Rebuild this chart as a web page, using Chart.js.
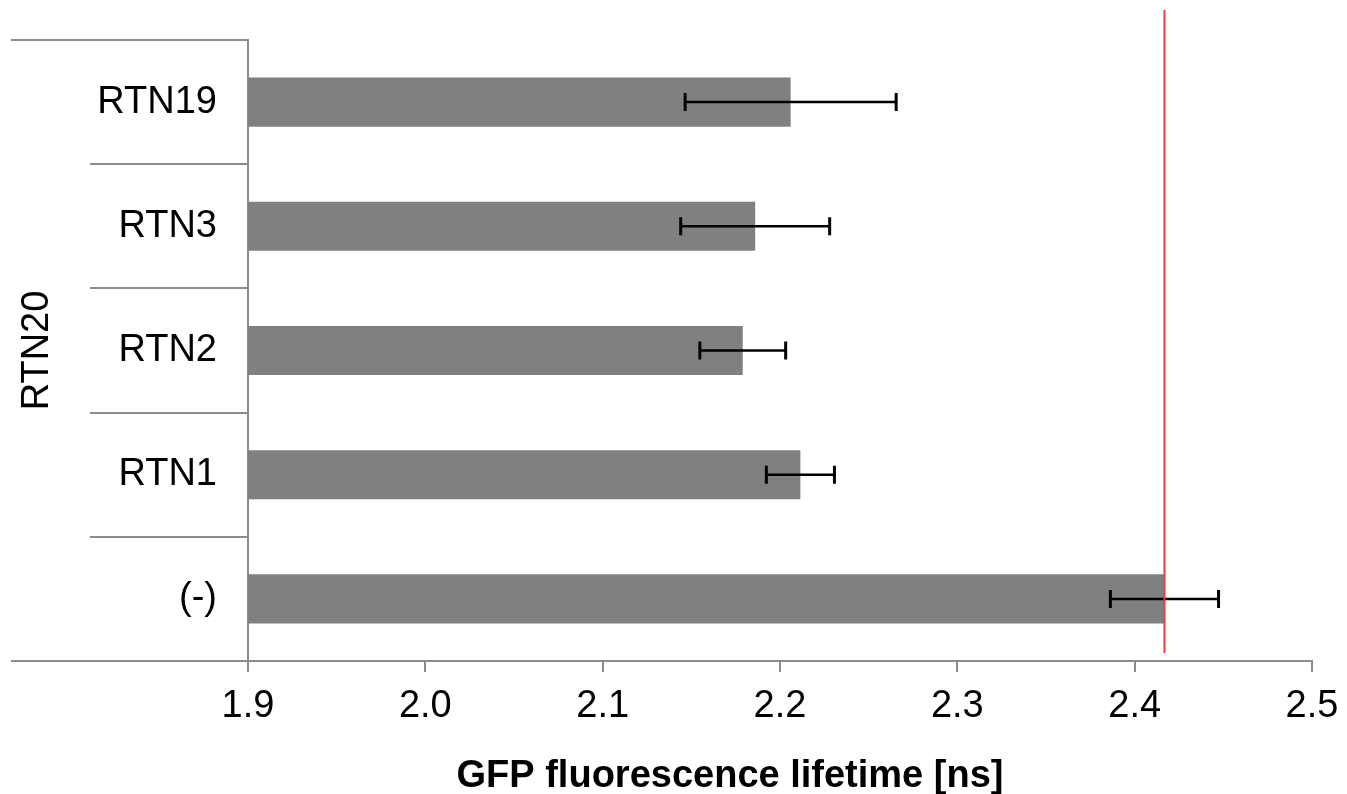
<!DOCTYPE html>
<html>
<head>
<meta charset="utf-8">
<style>
  html, body { margin: 0; padding: 0; background: #fff; }
  #wrap { width: 1347px; height: 794px; position: relative; }
</style>
<script src="https://cdn.jsdelivr.net/npm/chart.js@4/dist/chart.umd.min.js"></script>
</head>
<body>
<div id="wrap"><canvas id="c" width="1347" height="794"></canvas></div>
<script>
// ---- data ----
const categories = ['RTN19', 'RTN3', 'RTN2', 'RTN1', '(-)'];
const lifetimes  = [2.206, 2.186, 2.179, 2.2115, 2.4168];
const errors     = [0.0595, 0.042, 0.0242, 0.0192, 0.0305];
const referenceValue = [2.4168];
const xTickValues = [1.9, 2.0, 2.1, 2.2, 2.3, 2.4, 2.5];
const groupLabel = 'RTN20';
const xTitle = 'GFP fluorescence lifetime [ns]';

const FONT = "'Liberation Sans', Arial, sans-serif";
const GRID = '#8c8c8c';

const errorBarPlugin = {
  id: 'errorBars',
  afterDatasetsDraw(chart) {
    const xs = chart.scales.x, ys = chart.scales.y, ctx = chart.ctx;
    ctx.save();
    ctx.strokeStyle = '#000';
    errors.forEach((e, i) => {
      const v = lifetimes[i];
      const y = ys.getPixelForValue(i);
      const x0 = xs.getPixelForValue(v - e), x1 = xs.getPixelForValue(v + e);
      ctx.lineWidth = 2.5;
      ctx.beginPath(); ctx.moveTo(x0, y); ctx.lineTo(x1, y); ctx.stroke();
      ctx.lineWidth = 3;
      ctx.beginPath();
      ctx.moveTo(x0, y - 9); ctx.lineTo(x0, y + 9);
      ctx.moveTo(x1, y - 9); ctx.lineTo(x1, y + 9);
      ctx.stroke();
    });
    // reference line
    const ca = chart.chartArea;
    referenceValue.forEach(rv => {
      const x = xs.getPixelForValue(rv);
      ctx.strokeStyle = '#f0393c';
      ctx.lineWidth = 2;
      ctx.beginPath(); ctx.moveTo(x, ca.top - 30); ctx.lineTo(x, ca.bottom - 8); ctx.stroke();
    });
    ctx.restore();
  }
};

const framePlugin = {
  id: 'frame',
  afterDraw(chart) {
    const ctx = chart.ctx, ca = chart.chartArea;
    ctx.save();
    ctx.strokeStyle = GRID;
    ctx.lineWidth = 2;
    ctx.beginPath();
    ctx.moveTo(11, ca.top); ctx.lineTo(ca.left, ca.top);
    ctx.moveTo(11, ca.bottom); ctx.lineTo(ca.left, ca.bottom);
    ctx.stroke();
    // x axis title
    ctx.fillStyle = '#000';
    ctx.font = "bold 38px " + FONT;
    ctx.textAlign = 'center';
    ctx.textBaseline = 'alphabetic';
    ctx.fillText(xTitle, (ca.left + ca.right) / 2 - 50, 787);
    ctx.restore();
  }
};

new Chart(document.getElementById('c'), {
  type: 'bar',
  data: {
    labels: categories,
    datasets: [{
      data: lifetimes,
      backgroundColor: '#808080',
      borderWidth: 0,
      barPercentage: 0.395,
      categoryPercentage: 1.0
    }]
  },
  options: {
    indexAxis: 'y',
    responsive: false,
    animation: false,
    devicePixelRatio: 1,
    layout: { padding: { top: 40, right: 35, left: 0, bottom: 0 } },
    plugins: { legend: { display: false }, tooltip: { enabled: false }, title: { display: false } },
    scales: {
      x: {
        type: 'linear',
        min: 1.9, max: 2.5,
        afterBuildTicks(scale) { scale.ticks = xTickValues.map(v => ({ value: v })); },
        afterFit(scale) { scale.height = 133; },
        border: { display: true, color: GRID, width: 2 },
        grid: { drawOnChartArea: false, drawTicks: true, tickLength: 11, color: GRID, lineWidth: 2 },
        ticks: {
          color: '#000',
          font: { family: FONT, size: 38, lineHeight: 1.52 },
          padding: 6,
          maxRotation: 0,
          callback: v => Number(v).toFixed(1)
        }
      },
      y: {
        type: 'category',
        offset: true,
        afterFit(scale) { scale.width = 248; },
        border: { display: true, color: GRID, width: 2 },
        grid: { offset: true, drawOnChartArea: false, drawTicks: true, tickLength: 158, color: GRID, lineWidth: 2 },
        ticks: {
          color: '#000',
          font: { family: FONT, size: 38 },
          padding: -127
        },
        title: {
          display: true,
          text: groupLabel,
          color: '#000',
          font: { family: FONT, size: 38 },
          padding: { top: 15, bottom: 0 }
        }
      }
    }
  },
  plugins: [errorBarPlugin, framePlugin]
});
</script>
</body>
</html>
